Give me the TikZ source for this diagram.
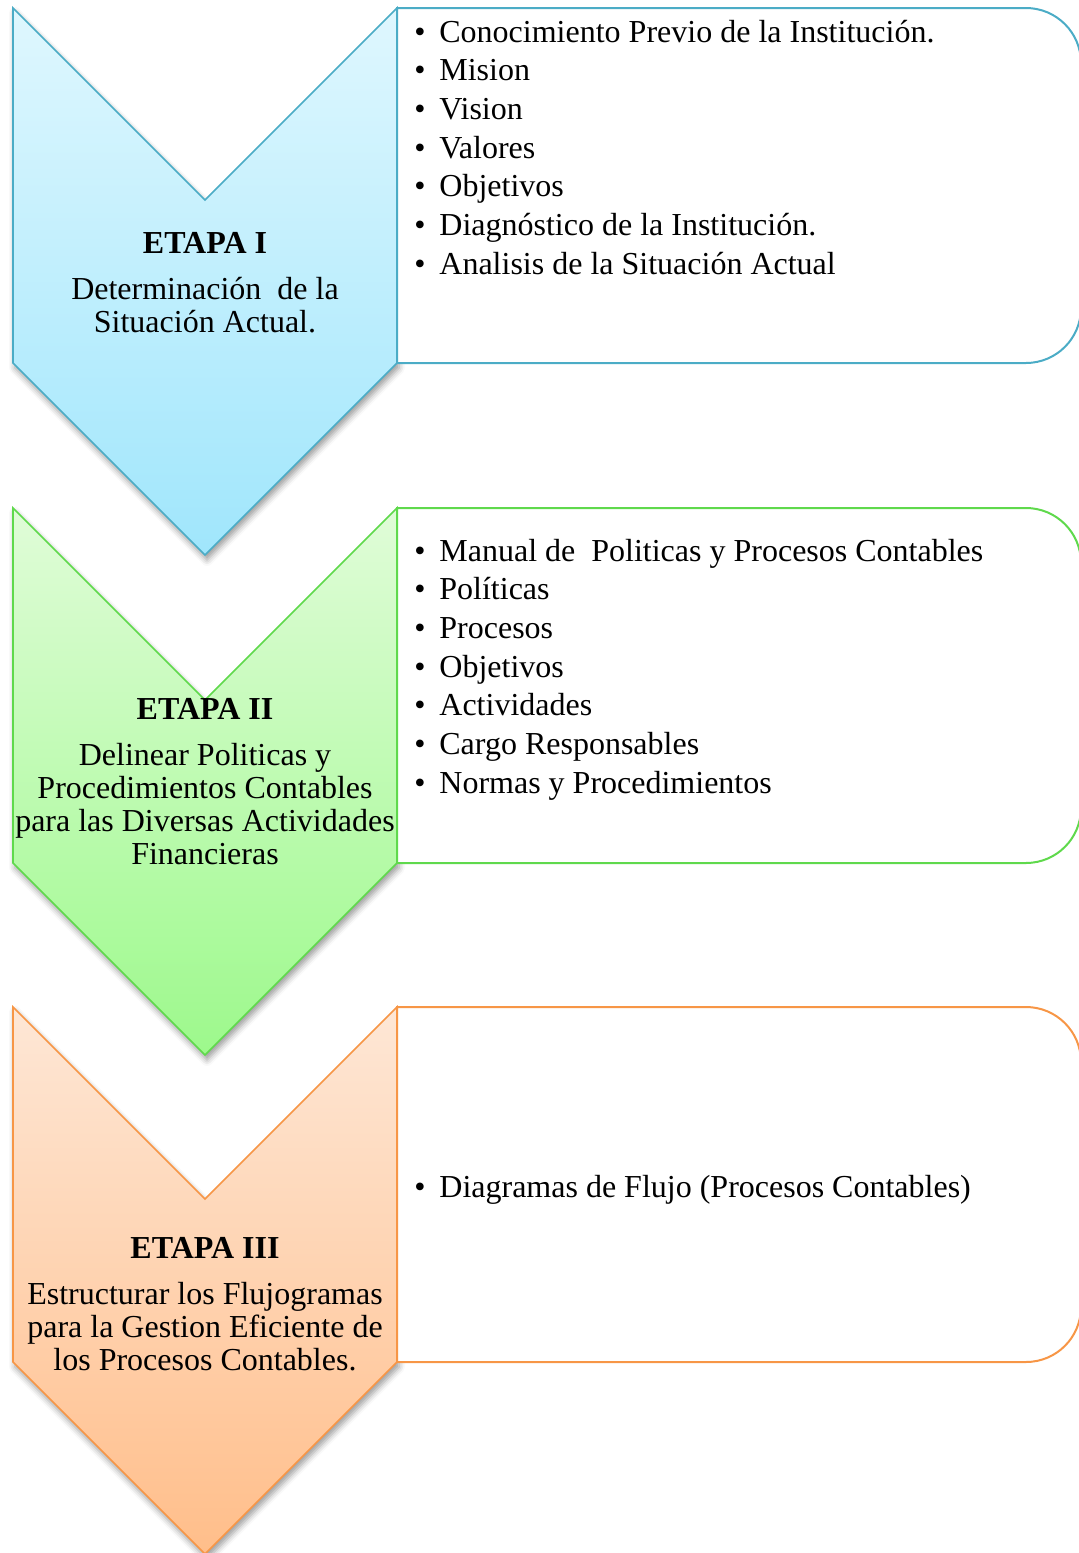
\documentclass[tikz,border=0pt]{standalone}
\usepackage{fontspec}
\setmainfont{Liberation Serif}
\usetikzlibrary{shadows.blur}

\definecolor{blueline}{HTML}{4BACC6}
\definecolor{bluetop}{HTML}{DFF7FE}
\definecolor{bluebot}{HTML}{A0E6FC}
\definecolor{greenline}{HTML}{5FD94C}
\definecolor{greentop}{HTML}{E0FCD8}
\definecolor{greenbot}{HTML}{9DF98C}
\definecolor{orangeline}{HTML}{F79646}
\definecolor{orangetop}{HTML}{FEE7D6}
\definecolor{orangebot}{HTML}{FFBE8A}

% one bullet line of a list
\newcommand\itm[1]{\hbox{\makebox[12.5pt][l]{\textbullet}#1}}
% a list whose baseline is the baseline of its first line
\newcommand\itemlist[1]{\vtop{\baselineskip=19.35pt\lineskiplimit=-20pt #1}}
% bold stage title above centred description lines
\newcommand\stagelabel[2]{\vtop{\baselineskip=16.5pt\lineskiplimit=-20pt
  \halign{\hfil##\hfil\cr\textbf{#1}\cr\noalign{\vskip6.5pt}#2\crcr}}}

\tikzset{
  chev/.style={line width=0.8pt,
    blur shadow={shadow xshift=1pt,shadow yshift=-2.5pt,
                 shadow blur radius=3pt,shadow opacity=40}},
  listbox/.style={line width=1pt, fill=white},
  stagefont/.style={font=\fontsize{16}{16.5}\selectfont, inner sep=0pt, anchor=base},
  listfont/.style={font=\fontsize{16}{19.35}\selectfont, inner sep=0pt, anchor=base west},
}

\begin{document}
\begin{tikzpicture}[x=0.5pt,y=0.5pt]
\clip (0,0) rectangle (1079,-1553);

% ---------- stage I ----------
\begin{scope}[yshift=-4pt]
  \path[chev, draw=blueline, top color=bluetop, bottom color=bluebot]
    (13,0) -- (205,-192) -- (397,0) -- (397,-355) -- (205,-547) -- (13,-355) -- cycle;
  \path[listbox, draw=blueline]
    (397,0) -- (1026,0) arc[start angle=90,end angle=0,radius=55]
    -- (1081,-300) arc[start angle=0,end angle=-90,radius=55] -- (397,-355) -- cycle;
  \node[stagefont] (s1) at (205,-245)
    {\stagelabel{ETAPA I}{Determinación\ \ de la\cr Situación Actual.}};
  \node[listfont] (l1) at (414,-34) {\itemlist{%
    \itm{Conocimiento Previo de la Institución.}
    \itm{Mision}
    \itm{Vision}
    \itm{Valores}
    \itm{Objetivos}
    \itm{Diagnóstico de la Institución.}
    \itm{Analisis de la Situación Actual}}};
\end{scope}

% ---------- stage II ----------
\begin{scope}[yshift=-254pt]
  \path[chev, draw=greenline, top color=greentop, bottom color=greenbot]
    (13,0) -- (205,-192) -- (397,0) -- (397,-355) -- (205,-547) -- (13,-355) -- cycle;
  \path[listbox, draw=greenline]
    (397,0) -- (1026,0) arc[start angle=90,end angle=0,radius=55]
    -- (1081,-300) arc[start angle=0,end angle=-90,radius=55] -- (397,-355) -- cycle;
  \node[stagefont] (s2) at (205,-211)
    {\stagelabel{ETAPA II}{Delinear Politicas y\cr Procedimientos Contables\cr
     para las Diversas Actividades\cr Financieras}};
  \node[listfont] (l2) at (414,-53) {\itemlist{%
    \itm{Manual de\ \ Politicas y Procesos Contables}
    \itm{Políticas}
    \itm{Procesos}
    \itm{Objetivos}
    \itm{Actividades}
    \itm{Cargo Responsables}
    \itm{Normas y Procedimientos}}};
\end{scope}

% ---------- stage III ----------
\begin{scope}[yshift=-503.5pt]
  \path[chev, draw=orangeline, top color=orangetop, bottom color=orangebot]
    (13,0) -- (205,-192) -- (397,0) -- (397,-355) -- (205,-547) -- (13,-355) -- cycle;
  \path[listbox, draw=orangeline]
    (397,0) -- (1026,0) arc[start angle=90,end angle=0,radius=55]
    -- (1081,-300) arc[start angle=0,end angle=-90,radius=55] -- (397,-355) -- cycle;
  \node[stagefont] (s3) at (205,-251)
    {\stagelabel{ETAPA III}{Estructurar los Flujogramas\cr
     para la Gestion Eficiente de\cr los Procesos Contables.}};
  \node[listfont] (l3) at (414,-190) {\itemlist{%
    \itm{Diagramas de Flujo (Procesos Contables)}}};
\end{scope}
\end{tikzpicture}
\end{document}
